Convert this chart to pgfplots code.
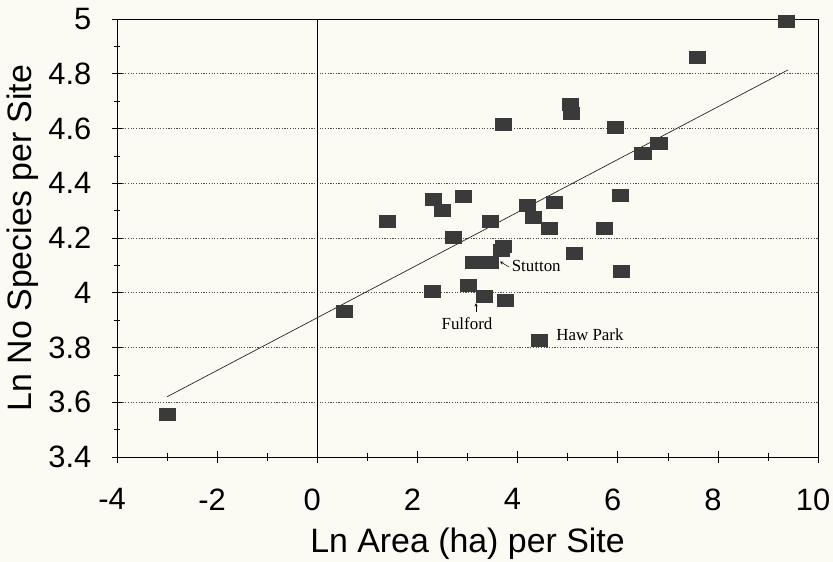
\documentclass[border=0pt]{standalone}
\usepackage{pgfplots}
\pgfplotsset{compat=1.18}
\usepackage{fontspec}
\setmainfont{Liberation Sans}
\newfontfamily\serifann{Liberation Serif}
\definecolor{bgc}{RGB}{251,251,244}
\definecolor{mk}{RGB}{58,58,58}
\begin{document}
\begin{tikzpicture}
\fill[bgc] (0,0) rectangle (833bp,562bp);
\useasboundingbox (0,0) rectangle (833bp,562bp);
\begin{axis}[
  at={(117bp,105bp)}, anchor=south west,
  width=701bp, height=438bp, scale only axis,
  xmin=-4, xmax=10, ymin=3.4, ymax=5,
  xtick={-4,-2,...,10}, minor x tick num=1,
  ytick={3.4,3.6,...,5.01}, minor y tick num=1,
  xtick pos=bottom, ytick pos=left,
  tick align=center,
  major tick length=11bp, minor tick length=7bp,
  every tick/.style={black, line width=0.5bp},
  axis line style={black, line width=0.8bp},
  ymajorgrids,
  grid style={black!70, line width=0.6bp, dash pattern=on 1.2bp off 1.5bp},
  /pgf/number format/assume math mode=true,
  yticklabel={\pgfmathprintnumber[fixed,precision=1]{\tick}},
  ticklabel style={font=\fontsize{31}{31}\selectfont},
  yticklabel style={inner sep=0pt, xshift=-20bp},
  xticklabel style={inner sep=0pt, anchor=north, yshift=-26bp, xshift=-5bp},
  xlabel={Ln Area (ha) per Site},
  ylabel={Ln No Species per Site},
  label style={font=\fontsize{34}{34}\selectfont},
  xlabel style={at={(axis description cs:0.5,-0.2169)}, anchor=base, inner sep=0pt},
  ylabel style={at={(axis description cs:-0.1113,0.5)}, anchor=south, inner sep=0pt},
  clip=false,
]
\addplot[black, line width=0.6bp] coordinates {(0,3.4) (0,5)};
\addplot[black!85, line width=0.7bp] coordinates {(-3,3.62) (9.4,4.814)};
\addplot[only marks, mark=square*, mark size=6bp,
  mark options={xscale=1.35, fill=mk, draw=mk}] coordinates {
(9.36,4.993)
(7.58,4.861)
(5.05,4.69)
(5.07,4.657)
(3.71,4.617)
(5.95,4.606)
(6.82,4.547)
(6.5,4.511)
(2.31,4.343)
(2.91,4.354)
(2.49,4.303)
(4.19,4.318)
(4.73,4.332)
(6.05,4.358)
(4.31,4.277)
(3.45,4.263)
(1.39,4.263)
(4.63,4.234)
(5.73,4.234)
(2.71,4.204)
(3.72,4.17)
(3.68,4.155)
(3.11,4.113)
(3.45,4.113)
(5.13,4.146)
(6.07,4.077)
(2.29,4.007)
(3.01,4.026)
(3.33,3.989)
(3.75,3.971)
(0.53,3.931)
(4.43,3.828)
(-3.0,3.558)
};
\node[anchor=west, font=\serifann\fontsize{17}{17}\selectfont, inner sep=0pt] at (axis cs:3.88,4.098) {Stutton};
\draw[->, line width=0.5bp, >=stealth] (axis cs:3.83,4.094) -- (axis cs:3.65,4.114);
\node[font=\serifann\fontsize{17}{17}\selectfont, inner sep=0pt] at (axis cs:2.99,3.889) {Fulford};
\draw[->, line width=0.5bp, >=stealth] (axis cs:3.17,3.930) -- (axis cs:3.17,3.962);
\node[anchor=west, font=\serifann\fontsize{17}{17}\selectfont, inner sep=0pt] at (axis cs:4.77,3.848) {Haw Park};
\end{axis}
\end{tikzpicture}
\end{document}
